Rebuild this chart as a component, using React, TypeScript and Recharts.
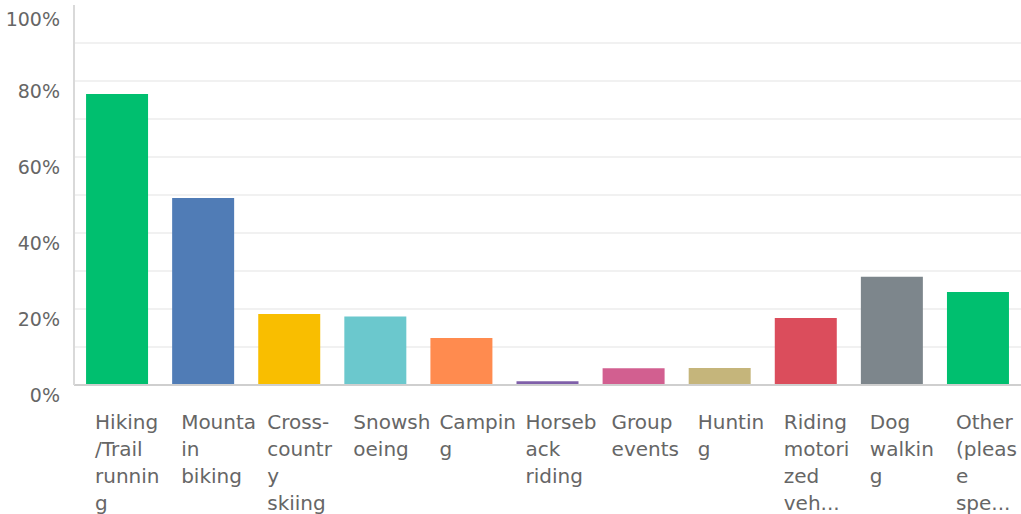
import { BarChart, Bar, XAxis, YAxis, CartesianGrid, Cell } from 'recharts';

const categories = [
  'Hiking/Trail running',
  'Mountain biking',
  'Cross-country skiing',
  'Snowshoeing',
  'Camping',
  'Horseback riding',
  'Group events',
  'Hunting',
  'Riding motorized vehicles',
  'Dog walking',
  'Other (please specify)',
];

// wrapped tick text, as shown under each bar
const tickLines = [
  ['Hiking', '/Trail', 'runnin', 'g'],
  ['Mounta', 'in', 'biking'],
  ['Cross-', 'countr', 'y', 'skiing'],
  ['Snowsh', 'oeing'],
  ['Campin', 'g'],
  ['Horseb', 'ack', 'riding'],
  ['Group', 'events'],
  ['Huntin', 'g'],
  ['Riding', 'motori', 'zed', 'veh...'],
  ['Dog', 'walkin', 'g'],
  ['Other', '(pleas', 'e', 'spe...'],
];

const percents = [76.6, 49.2, 18.7, 18.0, 12.4, 1.0, 4.4, 4.5, 17.6, 28.5, 24.5];

const colors = [
  '#00bf6f', '#507cb6', '#f9be00', '#6bc8cd', '#ff8b4f', '#7f5fa9',
  '#d25f90', '#c5b57b', '#db4d5c', '#7d868c', '#00bf6f',
];

const labelTicks = [0, 20, 40, 60, 80, 100];
const gridTicks = [10, 20, 30, 40, 50, 60, 70, 80, 90];

const data = categories.map((name, i) => ({ name, value: percents[i] }));

const FONT = '"DejaVu Sans", sans-serif';

const XTick = (props: any) => {
  const { x, y, payload } = props;
  const lines = tickLines[payload.index] || [];
  return (
    <text x={x - 22} y={y + 44} fill="#666" fontSize={20} fontFamily={FONT}>
      {lines.map((l, i) => (
        <tspan key={i} x={x - 22} dy={i === 0 ? 0 : 27}>
          {l}
        </tspan>
      ))}
    </text>
  );
};

const YTick = (props: any) => {
  const { x, y, payload } = props;
  return (
    <text x={x} y={y + 17} textAnchor="end" fill="#666" fontSize={19} fontFamily={FONT}>
      {`${payload.value}%`}
    </text>
  );
};

const gridCoords = (props: any) => {
  const { yAxis, offset } = props;
  if (yAxis && typeof yAxis.scale === 'function') {
    return gridTicks.map((t) => yAxis.scale(t));
  }
  return gridTicks.map((t) => offset.top + offset.height * (1 - t / 100));
};

export default function App() {
  return (
    <div style={{ position: 'absolute', left: 0, top: 0, background: '#fff' }}>
      <BarChart
        width={1021}
        height={514}
        data={data}
        margin={{ top: 5, right: 0, left: 0, bottom: 0 }}
        barCategoryGap="14%"
      >
        <CartesianGrid
          vertical={false}
          stroke="#ececec"
          strokeWidth={1.5}
          horizontalCoordinatesGenerator={gridCoords}
        />
        <XAxis
          dataKey="name"
          interval={0}
          height={129}
          tickSize={0}
          tickMargin={0}
          tick={<XTick />}
          axisLine={{ stroke: '#cfcfcf', strokeWidth: 2 }}
          tickLine={false}
        />
        <YAxis
          domain={[0, 100]}
          ticks={labelTicks}
          width={74}
          tickSize={0}
          tickMargin={14}
          tick={<YTick />}
          axisLine={{ stroke: '#d9d9d9', strokeWidth: 2 }}
          tickLine={false}
        />
        <Bar dataKey="value" isAnimationActive={false}>
          {data.map((_, i) => (
            <Cell key={i} fill={colors[i]} />
          ))}
        </Bar>
      </BarChart>
    </div>
  );
}
